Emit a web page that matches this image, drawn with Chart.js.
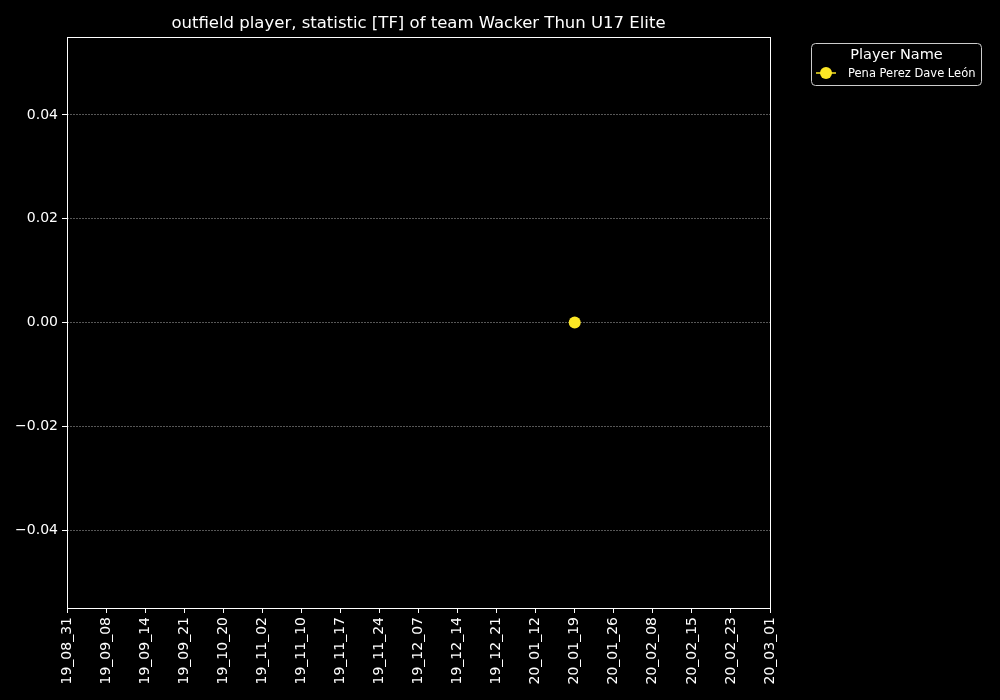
<!DOCTYPE html>
<html>
<head>
<meta charset="utf-8">
<script src="https://cdn.jsdelivr.net/npm/chart.js@4/dist/chart.umd.min.js"></script>
<style>
html,body{margin:0;padding:0;background:#000;}
canvas{display:block;}
</style>
</head>
<body>
<canvas id="c" width="1000" height="700"></canvas>
<script>
const chartTitle = "outfield player, statistic [TF] of team Wacker Thun U17 Elite";
const categories = ["19_08_31","19_09_08","19_09_14","19_09_21","19_10_20","19_11_02","19_11_10","19_11_17","19_11_24","19_12_07","19_12_14","19_12_21","20_01_12","20_01_19","20_01_26","20_02_08","20_02_15","20_02_23","20_03_01"];
const seriesName = "Pena Perez Dave León";
const seriesValues = [null,null,null,null,null,null,null,null,null,null,null,null,null,0,null,null,null,null,null];
const yTicks = [-0.04,-0.02,0,0.02,0.04];
const legendTitle = "Player Name";

const FONT = "'DejaVu Sans', sans-serif";
const YELLOW = "rgb(253,231,37)";

const bgPlugin = {
  id: 'bg',
  beforeDraw(chart){
    const ctx = chart.ctx;
    ctx.save();
    ctx.fillStyle = '#000';
    ctx.fillRect(0,0,chart.width,chart.height);
    ctx.restore();
  }
};

const decorPlugin = {
  id: 'decor',
  afterDraw(chart){
    const ctx = chart.ctx;
    const a = chart.chartArea;
    ctx.save();
    // frame
    ctx.strokeStyle = '#fff';
    ctx.lineWidth = 1;
    ctx.strokeRect(Math.round(a.left)+0.5, Math.round(a.top)+0.5, Math.round(a.right-a.left), Math.round(a.bottom-a.top));
    // title
    ctx.fillStyle = '#fff';
    ctx.font = "16.5px " + FONT;
    ctx.textAlign = 'center';
    ctx.textBaseline = 'middle';
    ctx.fillText(chartTitle, (a.left+a.right)/2, 23.5);
    // legend
    const lx = 811.5, ly = 43.5, lw = 170, lh = 42, r = 4;
    ctx.beginPath();
    ctx.moveTo(lx+r, ly);
    ctx.lineTo(lx+lw-r, ly);
    ctx.arcTo(lx+lw, ly, lx+lw, ly+r, r);
    ctx.lineTo(lx+lw, ly+lh-r);
    ctx.arcTo(lx+lw, ly+lh, lx+lw-r, ly+lh, r);
    ctx.lineTo(lx+r, ly+lh);
    ctx.arcTo(lx, ly+lh, lx, ly+lh-r, r);
    ctx.lineTo(lx, ly+r);
    ctx.arcTo(lx, ly, lx+r, ly, r);
    ctx.closePath();
    ctx.fillStyle = 'rgba(0,0,0,0.8)';
    ctx.fill();
    ctx.strokeStyle = '#cccccc';
    ctx.lineWidth = 1;
    ctx.stroke();
    ctx.fillStyle = '#fff';
    ctx.font = "14.5px " + FONT;
    ctx.textAlign = 'center';
    ctx.fillText(legendTitle, lx + lw/2, 55);
    // legend entry
    ctx.strokeStyle = YELLOW;
    ctx.lineWidth = 1.5;
    ctx.beginPath();
    ctx.moveTo(816, 73);
    ctx.lineTo(836, 73);
    ctx.stroke();
    ctx.fillStyle = YELLOW;
    ctx.beginPath();
    ctx.arc(826, 73, 6, 0, Math.PI*2);
    ctx.fill();
    ctx.fillStyle = '#fff';
    ctx.font = "11.5px " + FONT;
    ctx.textAlign = 'left';
    ctx.fillText(seriesName, 848, 74);
    ctx.restore();
  }
};

function fmt(v){
  if (Math.abs(v) < 1e-12) return "0.00";
  return (v < 0 ? "\u2212" : "") + Math.abs(v).toFixed(2);
}

new Chart(document.getElementById('c'), {
  type: 'line',
  data: {
    labels: categories,
    datasets: [{
      label: seriesName,
      data: seriesValues,
      borderColor: YELLOW,
      backgroundColor: YELLOW,
      pointBackgroundColor: YELLOW,
      pointBorderColor: YELLOW,
      pointRadius: 6,
      pointBorderWidth: 0,
      borderWidth: 1.5,
      spanGaps: false
    }]
  },
  options: {
    responsive: false,
    animation: false,
    devicePixelRatio: 1,
    layout: { padding: { top: 37, right: 230, bottom: 0, left: 0 } },
    plugins: {
      legend: { display: false },
      title: { display: false },
      tooltip: { enabled: false }
    },
    scales: {
      x: {
        type: 'category',
        offset: false,
        afterFit(s){ s.height = 92; },
        grid: {
          display: true,
          drawOnChartArea: false,
          drawTicks: true,
          tickLength: 5,
          tickColor: '#fff',
          tickWidth: 1,
          offset: false
        },
        border: { display: false },
        ticks: {
          color: '#fff',
          font: { family: FONT, size: 14 },
          minRotation: 90,
          maxRotation: 90,
          autoSkip: false,
          padding: 4
        }
      },
      y: {
        type: 'linear',
        min: -0.055,
        max: 0.055,
        afterFit(s){ s.width = 67; },
        afterBuildTicks(s){ s.ticks = yTicks.map(v => ({value: v})); },
        grid: {
          display: true,
          color: 'rgba(128,128,128,0.85)',
          lineWidth: 0.8,
          drawTicks: true,
          tickLength: 5,
          tickColor: '#fff',
          tickWidth: 1,
          tickBorderDash: []
        },
        border: { display: false, dash: [2,1] },
        ticks: {
          color: '#fff',
          font: { family: FONT, size: 14 },
          padding: 4,
          callback: (v) => fmt(v)
        }
      }
    }
  },
  plugins: [bgPlugin, decorPlugin]
});
</script>
</body>
</html>
